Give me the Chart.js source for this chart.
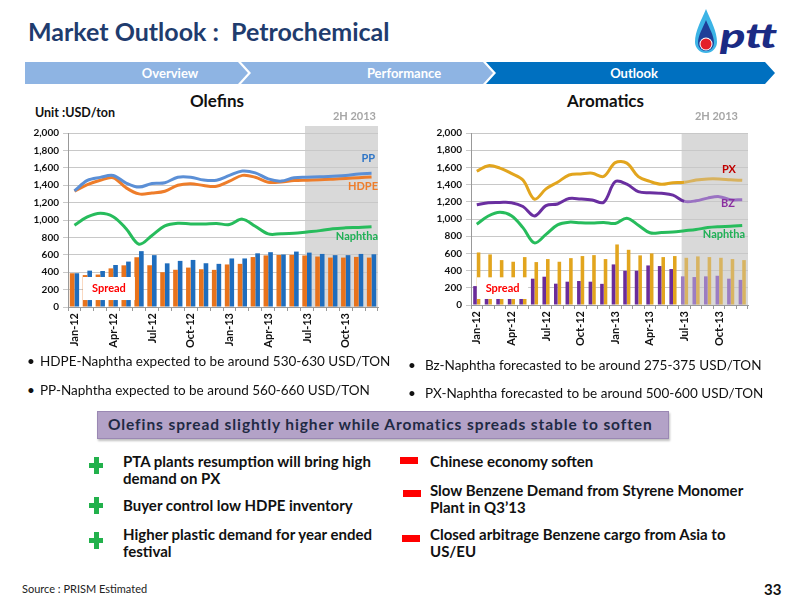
<!DOCTYPE html>
<html>
<head>
<meta charset="utf-8">
<script src="https://cdn.jsdelivr.net/npm/chart.js@4.4.1/dist/chart.umd.min.js"></script>
<style>
  html,body{margin:0;padding:0;background:#fff;}
  body{width:800px;height:600px;position:relative;overflow:hidden;font-family:Lato,"Open Sans",sans-serif;color:#111;}
  .abs{position:absolute;white-space:nowrap;}
  .title{left:28px;top:16px;font-size:25px;font-weight:bold;color:#1f3c6e;}
  .nav{left:0;top:0;}
  .navtxt{font-size:13px;font-weight:bold;color:#fff;top:65px;transform:translateX(-50%);}
  .b{font-weight:bold;}
  .bullet{font-size:13.5px;color:#111;}
  .dot{font-size:13.5px;color:#111;}
  .banner{left:97px;top:411px;width:570px;height:26px;background:#b3a2c7;border:1px solid #9a88b3;box-shadow:1px 2px 2px rgba(0,0,0,0.25);}
  .banner span{position:absolute;left:10px;top:3px;font-size:15.5px;letter-spacing:0.9px;font-weight:bold;color:#1f2a44;}
  .pt{font-size:15px;font-weight:bold;color:#111;line-height:16.5px;}
  .plus{width:14px;height:17px;}
  .plus:before{content:"";position:absolute;left:4.5px;top:0;width:5px;height:17px;background:#22b14c;}
  .plus:after{content:"";position:absolute;left:0;top:6px;width:14px;height:5px;background:#22b14c;}
  .minus{background:#ff0000;width:18px;height:7px;}
</style>
</head>
<body>
<svg class="abs nav" width="800" height="100">
  <path d="M25,62 H238 L248,73 L238,84 H25 Z" fill="#8eb4e3"/>
  <path d="M241,62 H483 L493,73 L483,84 H241 L251,73 Z" fill="#8eb4e3"/>
  <path d="M486,62 H765 L775,73 L765,84 H486 L496,73 Z" fill="#0070c0"/>
  <!-- logo -->
  <path d="M706,9 C701,21 695,31 695,42 A11,11 0 0 0 717,42 C717,31 711,21 706,9 Z" fill="#3cb4e6"/>
  <path d="M706,20 C703,28 698,35 698,43 A8,8 0 0 0 714,43 C714,35 709,28 706,20 Z" fill="#1e3f98"/>
  <circle cx="706" cy="44" r="6.5" fill="#fff"/>
  <circle cx="706" cy="44" r="5.5" fill="#e4202a"/>
  <text x="720" y="48" font-family="Lato" font-style="italic" font-weight="900" font-size="34" fill="#1b2b84" textLength="57" lengthAdjust="spacingAndGlyphs">ptt</text>
</svg>
<div class="abs title">Market Outlook :&nbsp; Petrochemical</div>
<div class="abs navtxt" style="left:170px">Overview</div>
<div class="abs navtxt" style="left:404px">Performance</div>
<div class="abs navtxt" style="left:634px">Outlook</div>

<div class="abs b" style="left:35px;top:105px;font-size:12.5px;">Unit :USD/ton</div>
<div class="abs b" style="left:190px;top:90px;font-size:17px;">Olefins</div>
<div class="abs b" style="left:567px;top:90px;font-size:17px;">Aromatics</div>

<div class="abs" style="left:20px;top:108px;width:370px;height:250px;"><canvas id="c1" width="370" height="250"></canvas></div>
<div class="abs" style="left:420px;top:108px;width:340px;height:250px;"><canvas id="c2" width="340" height="250"></canvas></div>

<div class="abs dot" style="left:27px;top:353px;">•</div>
<div class="abs bullet" style="left:40px;top:353px;">HDPE-Naphtha expected to be around 530-630 USD/TON</div>
<div class="abs dot" style="left:27px;top:382px;">•</div>
<div class="abs bullet" style="left:40px;top:382px;">PP-Naphtha expected to be around 560-660 USD/TON</div>
<div class="abs dot" style="left:408px;top:357px;">•</div>
<div class="abs bullet" style="left:425px;top:357px;">Bz-Naphtha forecasted to be around 275-375 USD/TON</div>
<div class="abs dot" style="left:408px;top:385px;">•</div>
<div class="abs bullet" style="left:425px;top:385px;">PX-Naphtha forecasted to be around 500-600 USD/TON</div>

<div class="abs banner"><span>Olefins spread slightly higher while Aromatics spreads stable to soften</span></div>

<div class="abs plus" style="left:89px;top:457px;"></div>
<div class="abs plus" style="left:89px;top:497px;"></div>
<div class="abs plus" style="left:89px;top:532px;"></div>
<div class="abs pt" style="left:123px;top:453px;">PTA plants resumption will bring high<br>demand on PX</div>
<div class="abs pt" style="left:123px;top:497px;">Buyer control low HDPE inventory</div>
<div class="abs pt" style="left:123px;top:526px;">Higher plastic demand for year ended<br>festival</div>

<div class="abs minus" style="left:400px;top:457px;"></div>
<div class="abs minus" style="left:403px;top:490px;"></div>
<div class="abs minus" style="left:402px;top:535px;"></div>
<div class="abs pt" style="left:430px;top:453px;">Chinese economy soften</div>
<div class="abs pt" style="left:430px;top:482px;">Slow Benzene Demand from Styrene Monomer<br>Plant in Q3’13</div>
<div class="abs pt" style="left:430px;top:526px;">Closed arbitrage Benzene cargo from Asia to<br>US/EU</div>

<div class="abs" style="left:22px;top:582px;font-size:11px;color:#222;">Source : PRISM Estimated</div>
<div class="abs b" style="left:764px;top:580px;font-size:15px;">33</div>

<script>
const months = ['Jan-12','Feb-12','Mar-12','Apr-12','May-12','Jun-12','Jul-12','Aug-12','Sep-12','Oct-12','Nov-12','Dec-12',
                'Jan-13','Feb-13','Mar-13','Apr-13','May-13','Jun-13','Jul-13','Aug-13','Sep-13','Oct-13','Nov-13','Dec-13'];
const shownTicks = ['Jan-12','Apr-12','Jul-12','Oct-12','Jan-13','Apr-13','Jul-13','Oct-13'];

// Olefins (USD/ton)
const pp      = [1335,1455,1490,1512,1425,1378,1420,1428,1492,1492,1460,1458,1512,1563,1542,1472,1447,1486,1492,1496,1504,1512,1530,1536];
const hdpe    = [1332,1406,1457,1486,1370,1300,1310,1330,1400,1418,1396,1388,1446,1513,1492,1435,1438,1453,1458,1462,1469,1477,1487,1495];
const naphtha = [940,1035,1078,1038,900,722,822,932,963,955,953,960,948,1010,928,840,842,848,863,878,900,910,915,923];
const hdpeSpread = [388,367,373,444,479,572,480,400,428,453,434,427,489,496,574,593,598,599,592,580,568,568,576,568];
const ppSpread   = [388,418,414,483,522,642,596,502,530,541,503,496,558,558,617,630,603,637,625,610,596,596,610,606];

// Aromatics (USD/ton)
const px = [1555,1620,1592,1530,1453,1230,1350,1428,1512,1524,1533,1495,1655,1650,1492,1437,1403,1422,1426,1453,1466,1466,1456,1450];
const bz = [1165,1190,1193,1190,1145,1035,1155,1175,1238,1232,1220,1195,1434,1405,1318,1305,1299,1278,1205,1212,1243,1260,1223,1225];
const bzSpread = [220,210,205,210,200,306,329,248,271,279,271,246,472,398,398,460,453,418,333,325,333,340,306,292];
const pxSpread = [611,588,522,503,557,499,534,503,545,569,580,534,704,642,577,600,557,569,549,565,557,549,534,522];

const yTicks = [0,200,400,600,800,1000,1200,1400,1600,1800,2000];
const forecastStart = 18; // Jul-13 (2H 2013)

Chart.defaults.font.family = 'Lato';
Chart.defaults.animation = false;

const decor = {
  id: 'decor',
  beforeDraw(chart, args, o) {
    const {ctx, chartArea: a, scales: {x}} = chart;
    const x0 = x.getPixelForValue(o.shadeFrom);
    ctx.save();
    ctx.fillStyle = '#d9d9d9';
    ctx.fillRect(x0, a.top - o.shadeTop, a.right - x0, a.bottom - a.top + o.shadeTop);
    ctx.fillStyle = '#a6a6a6';
    ctx.font = 'bold 11px Lato';
    ctx.textAlign = 'right';
    ctx.textBaseline = 'middle';
    ctx.fillText('2H 2013', a.right - o.hRight, a.top - 17);
    ctx.restore();
  },
  afterDatasetsDraw(chart, args, o) {
    const {ctx, chartArea: a, scales: {x, y}} = chart;
    ctx.save();
    const bx0 = x.getPixelForValue(o.box[0]), bx1 = x.getPixelForValue(o.box[1]);
    const by0 = y.getPixelForValue(o.box[3]), by1 = y.getPixelForValue(o.box[2]);
    ctx.fillStyle = '#fff';
    ctx.fillRect(bx0, by0, bx1 - bx0, by1 - by0);
    ctx.fillStyle = '#ff0000';
    ctx.font = 'bold 11px Lato';
    ctx.textAlign = 'center';
    ctx.textBaseline = 'middle';
    ctx.fillText('Spread', (bx0 + bx1) / 2, (by0 + by1) / 2);
    ctx.textAlign = 'right';
    o.labels.forEach(l => {
      ctx.fillStyle = l.color;
      ctx.fillText(l.text, a.right - l.dx, y.getPixelForValue(l.v));
    });
    ctx.restore();
  }
};

function makeOptions(yW, xH, plug) {
  return {
    responsive: false,
    events: [],
    layout: {padding: {top: 25, right: 12, left: 0, bottom: 0}},
    plugins: {legend: {display: false}, tooltip: {enabled: false}, decor: plug},
    scales: {
      x: {
        grid: {display: true, drawOnChartArea: false, tickLength: 4, color: '#999'},
        border: {color: '#999'},
        ticks: {autoSkip: false, minRotation: 90, maxRotation: 90, padding: 2, color: '#111',
                font: {size: 11, weight: 'bold'},
                callback: function(v, i) { const l = this.getLabelForValue(v); return shownTicks.includes(l) ? l : ''; }},
        afterFit: s => { s.height = xH; }
      },
      y: {
        min: 0, max: 2000,
        afterBuildTicks: s => { s.ticks = yTicks.map(v => ({value: v})); },
        grid: {color: '#c8c8c8', tickLength: 5},
        border: {color: '#999'},
        ticks: {color: '#111', padding: 4, font: {size: 10, weight: 'bold'},
                callback: v => v.toLocaleString('en-US')},
        afterFit: s => { s.width = yW; }
      }
    }
  };
}

const lineDS = (label, data, color, light) => ({
  type: 'line', label, data, borderColor: color, borderWidth: 3, pointRadius: 0,
  tension: 0.35, order: 0,
  segment: light ? {borderColor: c => c.p0DataIndex >= forecastStart ? light : color} : undefined
});

new Chart(document.getElementById('c1'), {
  type: 'bar',
  data: {
    labels: months,
    datasets: [
      lineDS('PP', pp, '#5b8fd6'),
      lineDS('HDPE', hdpe, '#ee7d2a'),
      lineDS('Naphtha', naphtha, '#27bc5c'),
      {label: 'HDPE-Naphtha', data: hdpeSpread, backgroundColor: '#e8731c', order: 1,
       categoryPercentage: 0.72, barPercentage: 1.0},
      {label: 'PP-Naphtha', data: ppSpread, backgroundColor: '#1f6dbd', order: 1,
       categoryPercentage: 0.72, barPercentage: 1.0}
    ]
  },
  options: makeOptions(48, 51, {
    shadeFrom: 17.85, shadeTop: 7, hRight: 2,
    box: [0.66, 4.68, 80, 345],
    labels: [
      {text: 'PP', v: 1712, color: '#2e75c6', dx: 3},
      {text: 'HDPE', v: 1380, color: '#ee7d2a', dx: 0},
      {text: 'Naphtha', v: 815, color: '#1fb055', dx: 0}
    ]
  }),
  plugins: [decor]
});

const lightIf = (dark, light) => c => c.dataIndex >= forecastStart ? light : dark;

new Chart(document.getElementById('c2'), {
  type: 'bar',
  data: {
    labels: months,
    datasets: [
      lineDS('PX', px, '#e2a51e', '#d8b25e'),
      lineDS('BZ', bz, '#6a2fa0', '#9a72c2'),
      lineDS('Naphtha', naphtha, '#27bc5c'),
      {label: 'BZ-Naphtha', data: bzSpread, backgroundColor: lightIf('#6a2c9a', '#9c7dc2'), order: 1,
       categoryPercentage: 0.62, barPercentage: 1.0},
      {label: 'PX-Naphtha', data: pxSpread, backgroundColor: lightIf('#e2a51e', '#d8b462'), order: 1,
       categoryPercentage: 0.62, barPercentage: 1.0}
    ]
  },
  options: makeOptions(51, 53, {
    shadeFrom: 17.75, shadeTop: 0, hRight: 10,
    box: [0.02, 4.45, 70, 322],
    labels: [
      {text: 'PX', v: 1580, color: '#c00000', dx: 12},
      {text: 'BZ', v: 1185, color: '#8a2ea0', dx: 13},
      {text: 'Naphtha', v: 815, color: '#1fb055', dx: 3}
    ]
  }),
  plugins: [decor]
});
</script>
</body>
</html>
